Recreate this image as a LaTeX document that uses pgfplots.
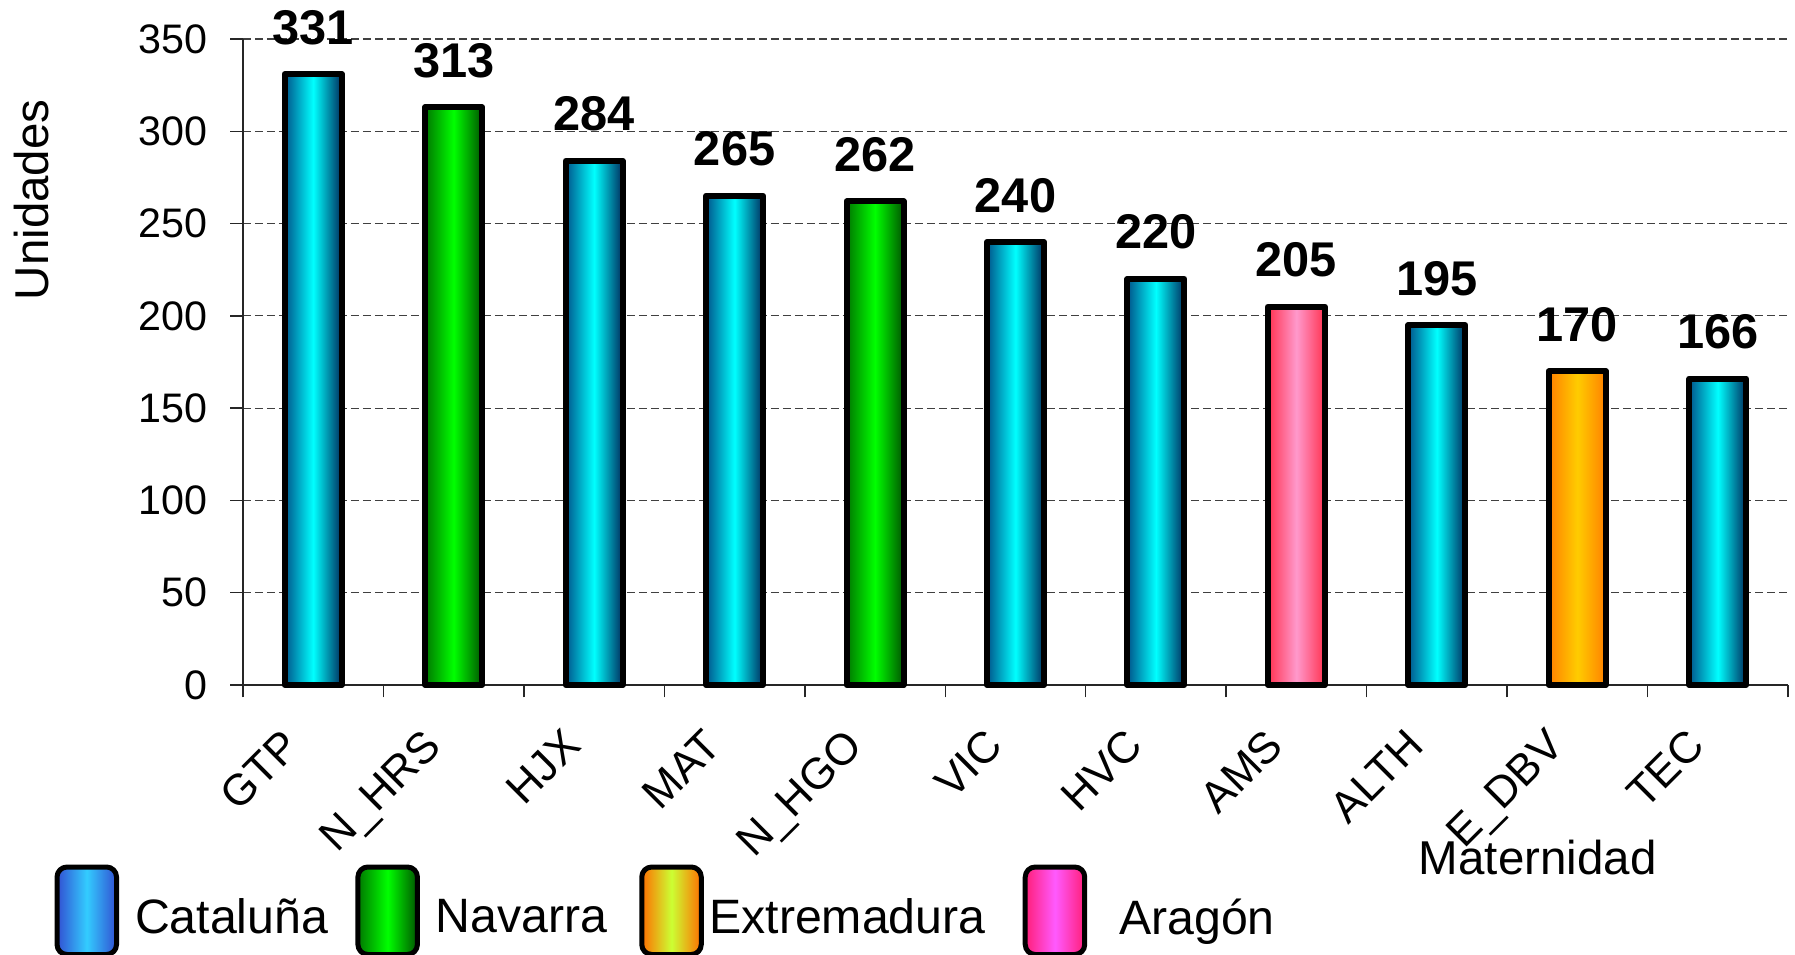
\documentclass[border=0pt]{standalone}
\usepackage{fontspec}
\setmainfont{Liberation Sans}
\usepackage{pgfplots}
\pgfplotsset{compat=1.18}

% bar colours (edge / middle)
\definecolor{catL}{RGB}{0,85,140}
\definecolor{catR}{RGB}{0,45,95}
\definecolor{catM}{RGB}{0,255,255}
\definecolor{navL}{RGB}{0,120,0}
\definecolor{navR}{RGB}{0,85,0}
\definecolor{navM}{RGB}{0,255,0}
\definecolor{extE}{RGB}{255,128,0}
\definecolor{extM}{RGB}{255,204,0}
\definecolor{araE}{RGB}{255,50,80}
\definecolor{araM}{RGB}{255,153,204}
% legend colours
\definecolor{lcatE}{RGB}{50,80,210}
\definecolor{lcatM}{RGB}{51,204,255}
\definecolor{lextE}{RGB}{255,110,0}
\definecolor{lextM}{RGB}{204,255,51}
\definecolor{laraE}{RGB}{255,30,120}
\definecolor{laraM}{RGB}{255,90,255}

\tikzset{
  barbase/.style={ybar, bar width=22.8pt, bar shift=0pt, draw=black,
    line width=2.4pt, line join=round},
  legbox/.style={draw=black, line width=2pt, rounded corners=4pt},
  catbar/.style={barbase, left color=catL, right color=catR, middle color=catM},
  navbar/.style={barbase, left color=navL, right color=navR, middle color=navM},
  extbar/.style={barbase, left color=extE, right color=extE, middle color=extM},
  arabar/.style={barbase, left color=araE, right color=araE, middle color=araM},
}

\begin{document}
\begin{tikzpicture}
\useasboundingbox (-97.2pt,-108pt) rectangle (620.8pt,274pt);
\begin{axis}[
  at={(0,0)}, anchor=south west,
  scale only axis, width=618pt, height=258.4pt,
  clip=false,
  axis lines=left,
  axis line style={-, black!85, line width=0.6pt},
  xmin=-0.5, xmax=10.5,
  ymin=0, ymax=350,
  ytick={0,50,...,350},
  xtick={0,...,10},
  xticklabels={GTP,N\_HRS,HJX,MAT,N\_HGO,VIC,HVC,AMS,ALTH,E\_DBV,TEC},
  minor xtick={-0.5,0.5,...,10.5},
  tick align=outside,
  major tick length=5pt, minor tick length=5pt,
  major x tick style={draw=none},
  every tick/.style={black!85, line width=0.6pt},
  minor x tick style={black!85, line width=0.6pt},
  ymajorgrids,
  grid style={black!75, line width=0.5pt, dash pattern=on 3.2pt off 1.6pt},
  /pgf/number format/assume math mode=true,
  yticklabel style={font=\fontsize{16.5}{18}\selectfont, inner sep=0pt, xshift=-9pt},
  xticklabel style={font=\fontsize{17.5}{19}\selectfont, inner sep=0pt, xshift=-13pt, yshift=-11.5pt, rotate=45, anchor=north east},
  ylabel={Unidades},
  ylabel style={font=\fontsize{19}{21}\selectfont, at={(axis description cs:-0.1366,0.751)}, anchor=center},
  xlabel={Maternidad},
  xlabel style={font=\fontsize{19}{21}\selectfont, at={(axis description cs:0.838,0)}, anchor=base, yshift=-76pt},
  nodes near coords,
  nodes near coords style={font=\bfseries\fontsize{19.5}{21}\selectfont, anchor=base, yshift=12pt, black},
  legend columns=4,
  legend style={draw=none, at={(-0.1223,-0.2771)}, anchor=north west, inner sep=0pt,
    font=\fontsize{19.3}{21}\selectfont,
    /tikz/every odd column/.append style={column sep=4.4pt},
    /tikz/every even column/.append style={column sep=8.9pt}},
]
% legend carriers (one bar of each region)
\addplot[catbar,
  legend image code/.code={\draw[legbox, left color=lcatE, right color=lcatE, middle color=lcatM] (0pt,-14.5pt) rectangle (23.8pt,20.5pt);}]
  coordinates {(0,331)};
\addplot[navbar,
  legend image code/.code={\draw[legbox, left color=navL, right color=navR, middle color=navM] (0pt,-14.5pt) rectangle (23.8pt,20.5pt);}]
  coordinates {(1,313)};
\addplot[extbar,
  legend image code/.code={\draw[legbox, left color=lextE, right color=lextE, middle color=lextM] (0pt,-14.5pt) rectangle (23.8pt,20.5pt);}]
  coordinates {(9,170)};
\addplot[arabar,
  legend image code/.code={\draw[legbox, left color=laraE, right color=laraE, middle color=laraM] (0pt,-14.5pt) rectangle (23.8pt,20.5pt);}]
  coordinates {(7,205)};
% remaining bars, one plot each so each bar gets its own shading
\addplot[catbar, forget plot] coordinates {(2,284)};
\addplot[catbar, forget plot] coordinates {(3,265)};
\addplot[navbar, forget plot] coordinates {(4,262)};
\addplot[catbar, forget plot] coordinates {(5,240)};
\addplot[catbar, forget plot] coordinates {(6,220)};
\addplot[catbar, forget plot] coordinates {(8,195)};
\addplot[catbar, forget plot] coordinates {(10,166)};
\legend{Cataluña, Navarra\hspace*{1.8pt}, \hspace*{-4.2pt}Extremadura\hspace*{4pt}, \hspace*{6.4pt}Aragón}
\end{axis}
\end{tikzpicture}
\end{document}
